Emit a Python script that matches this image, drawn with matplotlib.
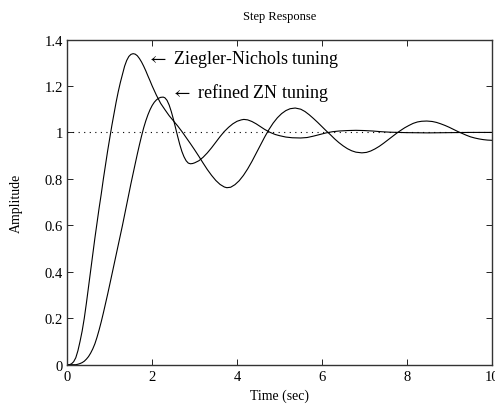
import matplotlib
matplotlib.use("Agg")
import matplotlib.pyplot as plt

# ---- data ----
t_zn = [0.0, 0.05, 0.1, 0.15, 0.2, 0.25, 0.3, 0.35, 0.4, 0.45, 0.5, 0.55, 0.6,
        0.65, 0.7, 0.75, 0.8, 0.85, 0.9, 0.95, 1.0, 1.05, 1.1, 1.15, 1.2, 1.25,
        1.3, 1.35, 1.4, 1.45, 1.5, 1.55, 1.6, 1.65, 1.7, 1.75, 1.8, 1.85, 1.9,
        1.95, 2.0, 2.1, 2.2, 2.3, 2.4, 2.5, 2.6, 2.7, 2.8, 2.9, 3.0, 3.1, 3.2,
        3.3, 3.4, 3.5, 3.6, 3.7, 3.76, 3.85, 3.95, 4.05, 4.15, 4.25, 4.35, 4.45,
        4.55, 4.65, 4.75, 4.85, 4.95, 5.05, 5.15, 5.25, 5.37, 5.5, 5.6, 5.7,
        5.8, 5.9, 6.0, 6.1, 6.2, 6.3, 6.4, 6.5, 6.6, 6.7, 6.8, 6.94, 7.05, 7.15,
        7.25, 7.35, 7.45, 7.55, 7.65, 7.75, 7.85, 7.95, 8.05, 8.15, 8.25, 8.35,
        8.47, 8.6, 8.7, 8.8, 8.9, 9.0, 9.1, 9.2, 9.3, 9.4, 9.5, 9.6, 9.7, 9.8,
        9.9, 10.0]
y_zn = [0.0, 0.0, 0.004, 0.013, 0.03, 0.06, 0.10, 0.145, 0.20, 0.265, 0.335,
        0.405, 0.475, 0.545, 0.61, 0.675, 0.735, 0.80, 0.86, 0.92, 0.975, 1.03,
        1.08, 1.13, 1.175, 1.215, 1.25, 1.285, 1.31, 1.327, 1.336, 1.339, 1.337,
        1.33, 1.318, 1.303, 1.285, 1.265, 1.243, 1.222, 1.20, 1.16, 1.125,
        1.098, 1.072, 1.05, 1.028, 1.004, 0.978, 0.952, 0.925, 0.897, 0.868,
        0.84, 0.815, 0.793, 0.776, 0.765, 0.762, 0.764, 0.775, 0.792, 0.815,
        0.843, 0.875, 0.91, 0.945, 0.98, 1.012, 1.04, 1.063, 1.081, 1.094,
        1.102, 1.105, 1.10, 1.09, 1.076, 1.06, 1.043, 1.025, 1.007, 0.99, 0.972,
        0.956, 0.942, 0.93, 0.921, 0.915, 0.912, 0.914, 0.92, 0.929, 0.94,
        0.953, 0.967, 0.981, 0.995, 1.008, 1.02, 1.03, 1.039, 1.045, 1.048,
        1.049, 1.047, 1.043, 1.037, 1.03, 1.022, 1.013, 1.004, 0.996, 0.988,
        0.981, 0.976, 0.972, 0.969, 0.967, 0.966]

t_ref = [0.0, 0.2, 0.25, 0.3, 0.35, 0.4, 0.45, 0.5, 0.55, 0.6, 0.65, 0.7, 0.75,
         0.8, 0.85, 0.9, 0.95, 1.0, 1.1, 1.2, 1.3, 1.4, 1.5, 1.6, 1.65, 1.7,
         1.75, 1.8, 1.85, 1.9, 1.95, 2.0, 2.05, 2.1, 2.15, 2.2, 2.26, 2.3, 2.35,
         2.4, 2.45, 2.5, 2.55, 2.6, 2.65, 2.7, 2.75, 2.8, 2.85, 2.9, 2.95, 3.0,
         3.1, 3.2, 3.3, 3.4, 3.5, 3.6, 3.7, 3.8, 3.9, 4.0, 4.1, 4.16, 4.25, 4.35,
         4.45, 4.55, 4.65, 4.78, 4.9, 5.0, 5.15, 5.3, 5.5, 5.65, 5.8, 5.95, 6.1,
         6.25, 6.4, 6.6, 6.8, 7.0, 7.2, 7.4, 7.6, 7.8, 8.0, 8.5, 9.0, 9.5, 10.0]
y_ref = [0.0, 0.0, 0.002, 0.005, 0.009, 0.015, 0.024, 0.035, 0.05, 0.068, 0.09,
         0.118, 0.15, 0.185, 0.223, 0.263, 0.303, 0.345, 0.43, 0.515, 0.60,
         0.69, 0.78, 0.865, 0.907, 0.947, 0.985, 1.02, 1.05, 1.076, 1.098, 1.116,
         1.13, 1.14, 1.147, 1.151, 1.152, 1.149, 1.138, 1.118, 1.09, 1.057, 1.02,
         0.983, 0.948, 0.918, 0.895, 0.878, 0.868, 0.865, 0.866, 0.869, 0.878,
         0.893, 0.912, 0.934, 0.958, 0.982, 1.004, 1.022, 1.037, 1.048, 1.054,
         1.056, 1.054, 1.047, 1.037, 1.025, 1.013, 1.0, 0.991, 0.986, 0.98,
         0.977, 0.976, 0.978, 0.984, 0.991, 0.998, 1.003, 1.006, 1.008, 1.009,
         1.008, 1.006, 1.003, 1.001, 1.0, 0.999, 0.998, 0.999, 1.0, 1.0]

x_ticks = [0, 2, 4, 6, 8, 10]
y_ticks = [0, 0.2, 0.4, 0.6, 0.8, 1.0, 1.2, 1.4]
y_tick_labels = ["0", "0.2", "0.4", "0.6", "0.8", "1", "1.2", "1.4"]
ref_level = 1.0

plt.rcParams['font.family'] = ['Liberation Serif', 'DejaVu Serif']
plt.rcParams['mathtext.fontset'] = 'stix'

fig = plt.figure(figsize=(4.95, 4.06), dpi=100)
ax = fig.add_axes([67.3 / 495, 40.3 / 406, 424.4 / 495, 325.2 / 406])

ax.plot([x_ticks[0], x_ticks[-1]], [ref_level, ref_level], color='black',
        linestyle=(0, (1, 4)), linewidth=0.8)
ax.plot(t_zn, y_zn, color='black', linewidth=0.8)
ax.plot(t_ref, y_ref, color='black', linewidth=0.8)

ax.set_xlim(0, 10)
ax.set_ylim(0, 1.4)
ax.set_xticks(x_ticks)
ax.set_xticklabels([str(v) for v in x_ticks])
ax.set_yticks(y_ticks)
ax.set_yticklabels(y_tick_labels)
ax.tick_params(direction='in', top=True, right=True, length=4, width=0.6,
               labelsize=10.5)
ax.tick_params(axis='x', pad=4)
ax.tick_params(axis='y', pad=3)
for s in ax.spines.values():
    s.set_linewidth(1.0)
    s.set_color('#333333')

ax.set_title("Step Response", fontsize=9, pad=15)
ax.set_xlabel("Time (sec)", fontsize=10, labelpad=4)
ax.set_ylabel("Amplitude", fontsize=10, labelpad=16)

ax.text(1.885, 1.2975, r"$\leftarrow$ Ziegler-Nichols tuning", fontsize=13,
        va='baseline', ha='left')
ax.text(2.44, 1.154, r"$\leftarrow$ refined ZN tuning", fontsize=13,
        va='baseline', ha='left')

fig.savefig("out.png", dpi=100)
